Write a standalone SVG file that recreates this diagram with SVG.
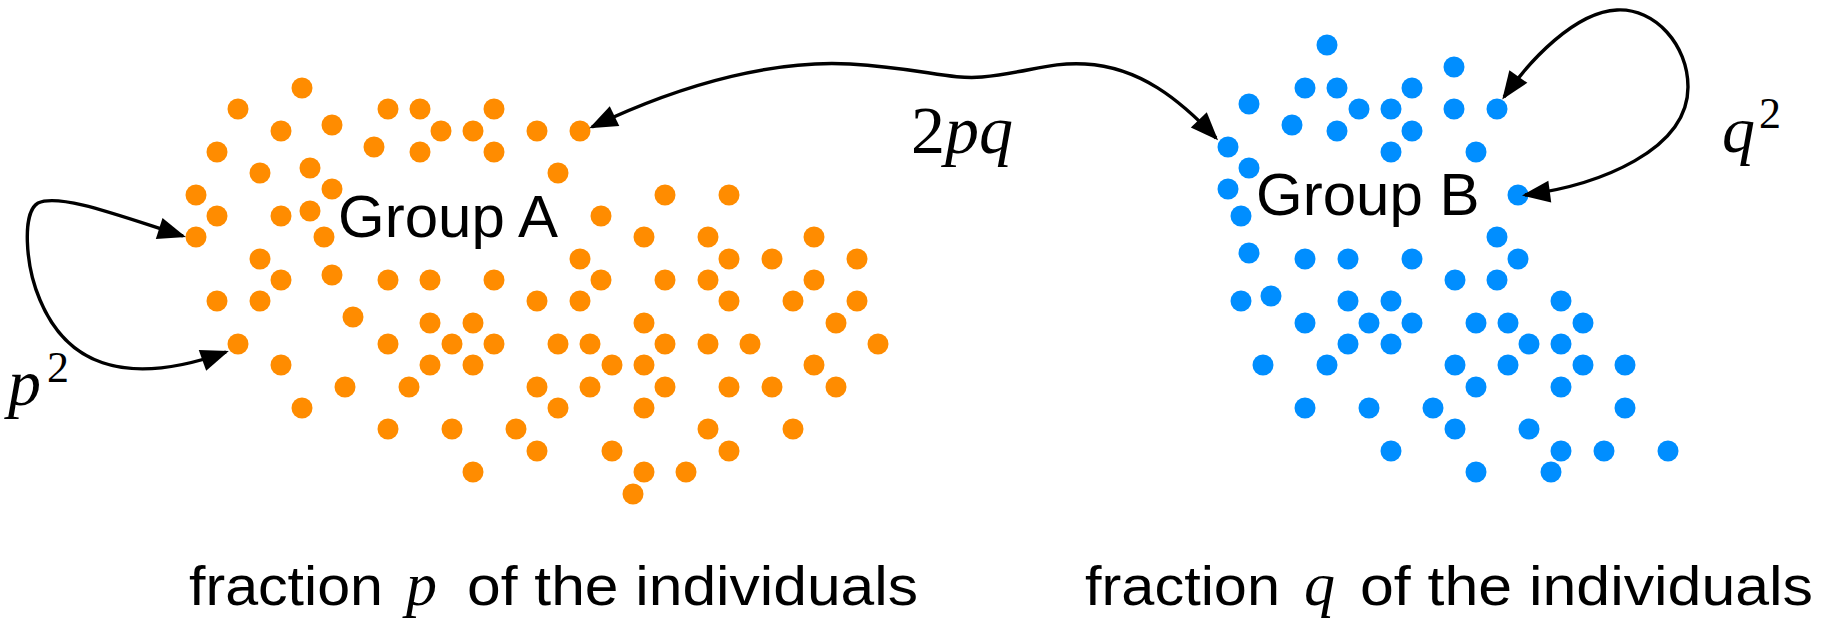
<svg xmlns="http://www.w3.org/2000/svg" width="1825" height="619" viewBox="0 0 1825 619">
<style>
.o{fill:#ff8c00}
.b{fill:#008eff}
.lbl{font-family:"Liberation Sans",Arial,sans-serif;font-size:60px;fill:#000}
.cap{font-family:"Liberation Sans",Arial,sans-serif;font-size:56px;fill:#000}
.m{font-family:"Liberation Serif","Times New Roman",serif;font-style:italic;fill:#000}
.n{font-family:"Liberation Serif","Times New Roman",serif;fill:#000}
.c{fill:none;stroke:#000;stroke-width:3.4;marker-start:url(#ah);marker-end:url(#ah)}
</style>
<defs>
<marker id="ah" viewBox="-32 -13 36 26" refX="-3" refY="0" markerWidth="36" markerHeight="26" markerUnits="userSpaceOnUse" orient="auto-start-reverse">
<path d="M0,0 L-28,-11 L-28,11 Z" fill="#000"/>
</marker>
</defs>
<rect width="1825" height="619" fill="#fff"/>
<g id="groupA">
<g class="o">
<circle cx="302" cy="88" r="10.5"/><circle cx="238" cy="109" r="10.5"/><circle cx="388" cy="109" r="10.5"/><circle cx="420" cy="109" r="10.5"/><circle cx="494" cy="109" r="10.5"/>
<circle cx="281" cy="131" r="10.5"/><circle cx="332" cy="125" r="10.5"/><circle cx="441" cy="131" r="10.5"/><circle cx="473" cy="131" r="10.5"/><circle cx="537" cy="131" r="10.5"/>
<circle cx="580" cy="131" r="10.5"/><circle cx="217" cy="152" r="10.5"/><circle cx="374" cy="147" r="10.5"/><circle cx="420" cy="152" r="10.5"/><circle cx="494" cy="152" r="10.5"/>
<circle cx="260" cy="173" r="10.5"/><circle cx="310" cy="168" r="10.5"/><circle cx="558" cy="173" r="10.5"/><circle cx="196" cy="195" r="10.5"/><circle cx="332" cy="189" r="10.5"/>
<circle cx="217" cy="216" r="10.5"/><circle cx="281" cy="216" r="10.5"/><circle cx="310" cy="211" r="10.5"/><circle cx="601" cy="216" r="10.5"/><circle cx="665" cy="195" r="10.5"/>
<circle cx="729" cy="195" r="10.5"/><circle cx="196" cy="237" r="10.5"/><circle cx="324" cy="237" r="10.5"/><circle cx="644" cy="237" r="10.5"/><circle cx="708" cy="237" r="10.5"/>
<circle cx="814" cy="237" r="10.5"/><circle cx="260" cy="259" r="10.5"/><circle cx="580" cy="259" r="10.5"/><circle cx="729" cy="259" r="10.5"/><circle cx="772" cy="259" r="10.5"/>
<circle cx="857" cy="259" r="10.5"/><circle cx="281" cy="280" r="10.5"/><circle cx="332" cy="275" r="10.5"/><circle cx="388" cy="280" r="10.5"/><circle cx="430" cy="280" r="10.5"/>
<circle cx="494" cy="280" r="10.5"/><circle cx="601" cy="280" r="10.5"/><circle cx="665" cy="280" r="10.5"/><circle cx="708" cy="280" r="10.5"/><circle cx="814" cy="280" r="10.5"/>
<circle cx="217" cy="301" r="10.5"/><circle cx="260" cy="301" r="10.5"/><circle cx="537" cy="301" r="10.5"/><circle cx="580" cy="301" r="10.5"/><circle cx="729" cy="301" r="10.5"/>
<circle cx="793" cy="301" r="10.5"/><circle cx="857" cy="301" r="10.5"/><circle cx="353" cy="317" r="10.5"/><circle cx="430" cy="323" r="10.5"/><circle cx="473" cy="323" r="10.5"/>
<circle cx="644" cy="323" r="10.5"/><circle cx="836" cy="323" r="10.5"/><circle cx="238" cy="344" r="10.5"/><circle cx="388" cy="344" r="10.5"/><circle cx="452" cy="344" r="10.5"/>
<circle cx="494" cy="344" r="10.5"/><circle cx="558" cy="344" r="10.5"/><circle cx="590" cy="344" r="10.5"/><circle cx="665" cy="344" r="10.5"/><circle cx="708" cy="344" r="10.5"/>
<circle cx="750" cy="344" r="10.5"/><circle cx="878" cy="344" r="10.5"/><circle cx="281" cy="365" r="10.5"/><circle cx="430" cy="365" r="10.5"/><circle cx="473" cy="365" r="10.5"/>
<circle cx="612" cy="365" r="10.5"/><circle cx="644" cy="365" r="10.5"/><circle cx="814" cy="365" r="10.5"/><circle cx="345" cy="387" r="10.5"/><circle cx="409" cy="387" r="10.5"/>
<circle cx="537" cy="387" r="10.5"/><circle cx="590" cy="387" r="10.5"/><circle cx="665" cy="387" r="10.5"/><circle cx="729" cy="387" r="10.5"/><circle cx="772" cy="387" r="10.5"/>
<circle cx="836" cy="387" r="10.5"/><circle cx="302" cy="408" r="10.5"/><circle cx="558" cy="408" r="10.5"/><circle cx="644" cy="408" r="10.5"/><circle cx="388" cy="429" r="10.5"/>
<circle cx="452" cy="429" r="10.5"/><circle cx="516" cy="429" r="10.5"/><circle cx="708" cy="429" r="10.5"/><circle cx="793" cy="429" r="10.5"/><circle cx="537" cy="451" r="10.5"/>
<circle cx="612" cy="451" r="10.5"/><circle cx="729" cy="451" r="10.5"/><circle cx="473" cy="472" r="10.5"/><circle cx="644" cy="472" r="10.5"/><circle cx="686" cy="472" r="10.5"/>
<circle cx="633" cy="494" r="10.5"/>
</g>
<text class="lbl" x="338" y="237">Group A</text>
</g>
<g id="groupB">
<g class="b">
<circle cx="1327" cy="45" r="10.5"/><circle cx="1454" cy="67" r="10.5"/><circle cx="1305" cy="88" r="10.5"/><circle cx="1337" cy="88" r="10.5"/><circle cx="1412" cy="88" r="10.5"/>
<circle cx="1249" cy="104" r="10.5"/><circle cx="1359" cy="109" r="10.5"/><circle cx="1391" cy="109" r="10.5"/><circle cx="1454" cy="109" r="10.5"/><circle cx="1497" cy="109" r="10.5"/>
<circle cx="1292" cy="125" r="10.5"/><circle cx="1337" cy="131" r="10.5"/><circle cx="1412" cy="131" r="10.5"/><circle cx="1228" cy="147" r="10.5"/><circle cx="1391" cy="152" r="10.5"/>
<circle cx="1476" cy="152" r="10.5"/><circle cx="1249" cy="168" r="10.5"/><circle cx="1228" cy="189" r="10.5"/><circle cx="1518" cy="195" r="10.5"/><circle cx="1241" cy="216" r="10.5"/>
<circle cx="1497" cy="237" r="10.5"/><circle cx="1249" cy="253" r="10.5"/><circle cx="1305" cy="259" r="10.5"/><circle cx="1348" cy="259" r="10.5"/><circle cx="1412" cy="259" r="10.5"/>
<circle cx="1518" cy="259" r="10.5"/><circle cx="1455" cy="280" r="10.5"/><circle cx="1497" cy="280" r="10.5"/><circle cx="1241" cy="301" r="10.5"/><circle cx="1271" cy="296" r="10.5"/>
<circle cx="1348" cy="301" r="10.5"/><circle cx="1391" cy="301" r="10.5"/><circle cx="1561" cy="301" r="10.5"/><circle cx="1305" cy="323" r="10.5"/><circle cx="1369" cy="323" r="10.5"/>
<circle cx="1412" cy="323" r="10.5"/><circle cx="1476" cy="323" r="10.5"/><circle cx="1508" cy="323" r="10.5"/><circle cx="1583" cy="323" r="10.5"/><circle cx="1348" cy="344" r="10.5"/>
<circle cx="1391" cy="344" r="10.5"/><circle cx="1529" cy="344" r="10.5"/><circle cx="1561" cy="344" r="10.5"/><circle cx="1263" cy="365" r="10.5"/><circle cx="1327" cy="365" r="10.5"/>
<circle cx="1455" cy="365" r="10.5"/><circle cx="1508" cy="365" r="10.5"/><circle cx="1583" cy="365" r="10.5"/><circle cx="1625" cy="365" r="10.5"/><circle cx="1476" cy="387" r="10.5"/>
<circle cx="1561" cy="387" r="10.5"/><circle cx="1305" cy="408" r="10.5"/><circle cx="1369" cy="408" r="10.5"/><circle cx="1433" cy="408" r="10.5"/><circle cx="1625" cy="408" r="10.5"/>
<circle cx="1455" cy="429" r="10.5"/><circle cx="1529" cy="429" r="10.5"/><circle cx="1391" cy="451" r="10.5"/><circle cx="1561" cy="451" r="10.5"/><circle cx="1604" cy="451" r="10.5"/>
<circle cx="1668" cy="451" r="10.5"/><circle cx="1476" cy="472" r="10.5"/><circle cx="1551" cy="472" r="10.5"/>
</g>
<text class="lbl" x="1256" y="215">Group B</text>
</g>
<g id="connectors">
<path class="c" d="M592,127 C690,80 780,60 850,64 C920,68 950,80 982,77 C1030,72 1050,62 1085,64 C1140,67 1180,100 1216,138"/>
<path class="c" d="M183,236 C120,216 60,193 38,203 C22,212 25,265 40,300 C65,360 120,390 226,352"/>
<path class="c" d="M1504,97 C1530,60 1575,12 1617,10 C1655,8 1688,45 1688,87 C1688,150 1600,185 1525,195"/>
</g>
<g id="labels">
<text x="911" y="153" font-size="68"><tspan class="n">2</tspan><tspan class="m">pq</tspan></text>
<text x="8" y="405" font-size="66"><tspan class="m">p</tspan></text>
<text x="47" y="382" font-size="44" class="n">2</text>
<text x="1722" y="152" font-size="66"><tspan class="m">q</tspan></text>
<text x="1759" y="128" font-size="44" class="n">2</text>
<text class="cap" x="189" y="605" textLength="194" lengthAdjust="spacingAndGlyphs">fraction</text>
<text class="m" x="406" y="605" font-size="62">p</text>
<text class="cap" x="467" y="605" textLength="451" lengthAdjust="spacingAndGlyphs">of the individuals</text>
<text class="cap" x="1085" y="605" textLength="195" lengthAdjust="spacingAndGlyphs">fraction</text>
<text class="m" x="1304" y="605" font-size="62">q</text>
<text class="cap" x="1360" y="605" textLength="453" lengthAdjust="spacingAndGlyphs">of the individuals</text>
</g>
</svg>
